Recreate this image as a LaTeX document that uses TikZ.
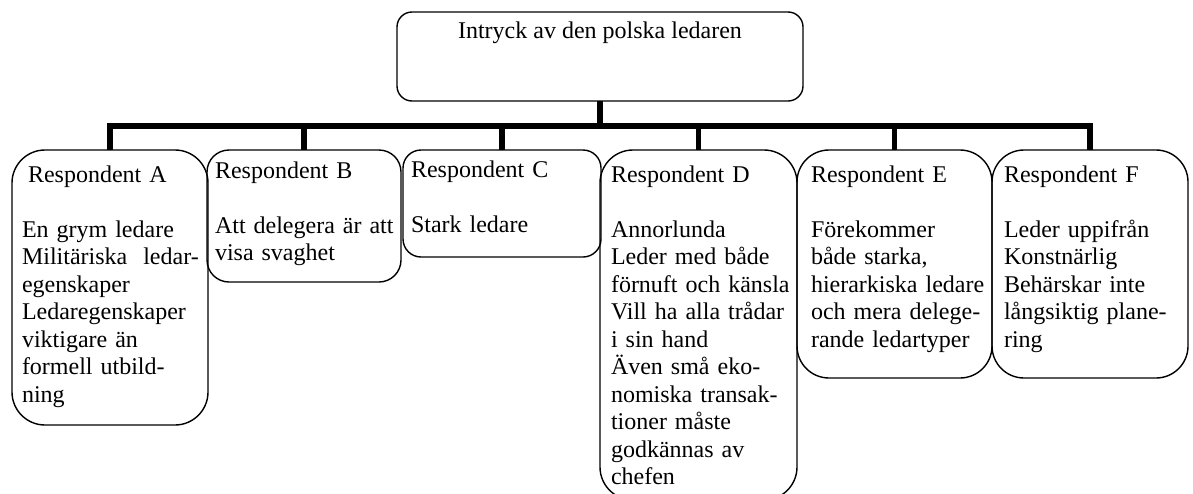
\documentclass[tikz,border=0pt]{standalone}
\usepackage{fontspec}
\setmainfont{Liberation Serif}
\begin{document}
\begin{tikzpicture}[x=0.5pt,y=-0.5pt,
  rbox/.style={draw=black,line width=0.7pt,rectangle,inner sep=0pt,outer sep=0pt,anchor=north west},
  conn/.style={draw=black,line width=2.8pt},
  txt/.style={inner sep=0pt,outer sep=0pt,anchor=base west,align=left,text width=100pt,
    font=\fontsize{12pt}{13.75pt}\selectfont}]
\useasboundingbox (0,0) rectangle (1193,493);
% boxes
\node[rbox,rounded corners=7.5pt,minimum width=203pt,minimum height=44.5pt] (top) at (397,12) {};
\node[rbox,rounded corners=16.5pt,minimum width=98pt,minimum height=137.5pt] (A) at (12,150) {};
\node[rbox,rounded corners=11pt,minimum width=97pt,minimum height=66pt] (B) at (207,150) {};
\node[rbox,rounded corners=9pt,minimum width=99pt,minimum height=53.5pt] (C) at (403,150) {};
\node[rbox,rounded corners=16.5pt,minimum width=98.5pt,minimum height=175pt] (D) at (600,150) {};
\node[rbox,rounded corners=16pt,minimum width=97.5pt,minimum height=114pt] (E) at (797,150) {};
\node[rbox,rounded corners=16pt,minimum width=98pt,minimum height=114pt] (F) at (992,150) {};
% connectors
\coordinate (barY) at (0,126);
\draw[conn] (top.south) -- (top.south |- barY);
\draw[conn] (A.north) |- (F.north |- barY) -- (F.north);
\draw[conn] (B.north |- barY) -- (B.north);
\draw[conn] (C.north |- barY) -- (C.north);
\draw[conn] (D.north |- barY) -- (D.north);
\draw[conn] (E.north |- barY) -- (E.north);
% texts
\node[inner sep=0pt,anchor=base,font=\fontsize{12pt}{13.75pt}\selectfont] (ttl) at (600,38) {Intryck av den polska ledaren};
\node[txt] (tA) at (22,182) {\hspace*{3pt}Respondent A\\[13.75pt]En grym ledare\\Militäriska\ \ ledar-\\egenskaper\\Ledaregenskaper\\viktigare än\\formell utbild-\\ning};
\node[txt] (tB) at (215,178) {Respondent B\\[13.75pt]Att delegera är att\\visa svaghet};
\node[txt] (tC) at (411,177) {Respondent C\\[13.75pt]Stark ledare};
\node[txt] (tD) at (611,182) {Respondent D\\[13.75pt]Annorlunda\\Leder med både\\förnuft och känsla\\Vill ha alla trådar\\i sin hand\\Även små eko-\\nomiska transak-\\tioner måste\\godkännas av\\chefen};
\node[txt] (tE) at (811,182) {Respondent E\\[13.75pt]Förekommer\\både starka,\\hierarkiska ledare\\och mera delege-\\rande ledartyper};
\node[txt] (tF) at (1004,182) {Respondent F\\[13.75pt]Leder uppifrån\\Konstnärlig\\Behärskar inte\\långsiktig plane-\\ring};
\end{tikzpicture}
\end{document}
